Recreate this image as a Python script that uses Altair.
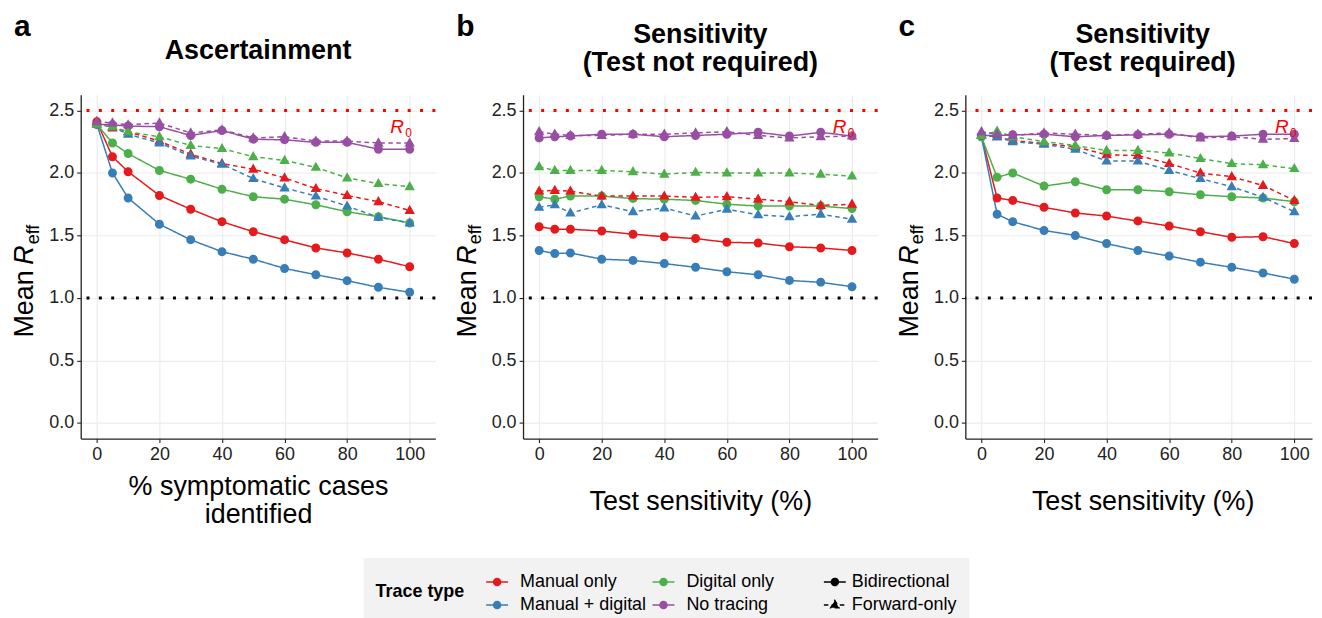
import altair as alt
import pandas as pd

FONT = "Liberation Sans"

x_values = [0, 5, 10, 20, 30, 40, 50, 60, 70, 80, 90, 100]

trace_types = ["Manual only", "Manual + digital", "Digital only", "No tracing"]
trace_colors = ["#E41A1C", "#377EB8", "#4DAF4A", "#984EA3"]
directions = ["Bidirectional", "Forward-only"]

# Panel a: Ascertainment
a_manual_bi = [2.41, 2.13, 2.01, 1.82, 1.71, 1.61, 1.53, 1.465, 1.40, 1.36, 1.31, 1.25]
a_md_bi = [2.39, 2.00, 1.80, 1.59, 1.465, 1.37, 1.31, 1.236, 1.186, 1.138, 1.085, 1.045]
a_digital_bi = [2.39, 2.24, 2.155, 2.02, 1.95, 1.87, 1.81, 1.79, 1.745, 1.69, 1.65, 1.60]
a_none_bi = [2.39, 2.385, 2.375, 2.37, 2.30, 2.34, 2.27, 2.265, 2.245, 2.245, 2.19, 2.19]
a_manual_fw = [2.41, 2.36, 2.33, 2.255, 2.15, 2.075, 2.03, 1.96, 1.875, 1.82, 1.77, 1.70]
a_md_fw = [2.39, 2.37, 2.31, 2.24, 2.135, 2.07, 1.955, 1.88, 1.815, 1.735, 1.645, 1.60]
a_digital_fw = [2.39, 2.37, 2.33, 2.29, 2.22, 2.195, 2.13, 2.10, 2.045, 1.96, 1.915, 1.89]
a_none_fw = [2.41, 2.40, 2.385, 2.40, 2.32, 2.345, 2.28, 2.29, 2.255, 2.255, 2.24, 2.24]

# Panel b: Sensitivity (test not required)
b_manual_bi = [1.57, 1.55, 1.55, 1.535, 1.51, 1.49, 1.475, 1.445, 1.44, 1.41, 1.40, 1.38]
b_md_bi = [1.38, 1.355, 1.36, 1.31, 1.30, 1.275, 1.245, 1.21, 1.185, 1.14, 1.125, 1.09]
b_digital_bi = [1.81, 1.79, 1.815, 1.815, 1.795, 1.79, 1.78, 1.75, 1.735, 1.735, 1.735, 1.715]
b_none_bi = [2.28, 2.29, 2.295, 2.31, 2.31, 2.29, 2.30, 2.31, 2.325, 2.295, 2.325, 2.295]
b_manual_fw = [1.855, 1.86, 1.855, 1.815, 1.815, 1.815, 1.805, 1.81, 1.79, 1.77, 1.74, 1.75]
b_md_fw = [1.725, 1.745, 1.68, 1.745, 1.69, 1.72, 1.655, 1.71, 1.665, 1.65, 1.67, 1.63]
b_digital_fw = [2.05, 2.02, 2.02, 2.02, 2.01, 1.99, 2.005, 2.0, 2.0, 2.0, 1.99, 1.975]
b_none_fw = [2.33, 2.31, 2.30, 2.30, 2.31, 2.31, 2.32, 2.33, 2.30, 2.28, 2.29, 2.295]

# Panel c: Sensitivity (test required)
c_manual_bi = [2.295, 1.80, 1.78, 1.725, 1.68, 1.655, 1.615, 1.575, 1.53, 1.485, 1.49, 1.435]
c_md_bi = [2.29, 1.67, 1.61, 1.54, 1.50, 1.435, 1.38, 1.335, 1.285, 1.245, 1.20, 1.15]
c_digital_bi = [2.29, 1.965, 2.0, 1.895, 1.93, 1.865, 1.865, 1.85, 1.825, 1.81, 1.80, 1.77]
c_none_bi = [2.30, 2.30, 2.305, 2.31, 2.29, 2.30, 2.305, 2.31, 2.29, 2.295, 2.31, 2.31]
c_manual_fw = [2.30, 2.29, 2.26, 2.235, 2.21, 2.145, 2.14, 2.075, 2.0, 1.97, 1.90, 1.78]
c_md_fw = [2.31, 2.29, 2.25, 2.23, 2.19, 2.095, 2.095, 2.02, 1.955, 1.89, 1.805, 1.69]
c_digital_fw = [2.30, 2.335, 2.29, 2.25, 2.22, 2.18, 2.18, 2.16, 2.115, 2.075, 2.065, 2.035]
c_none_fw = [2.33, 2.31, 2.30, 2.32, 2.31, 2.30, 2.31, 2.32, 2.28, 2.29, 2.27, 2.275]

panel_series = [
    {("Manual only", "Bidirectional"): a_manual_bi, ("Manual + digital", "Bidirectional"): a_md_bi,
     ("Digital only", "Bidirectional"): a_digital_bi, ("No tracing", "Bidirectional"): a_none_bi,
     ("Manual only", "Forward-only"): a_manual_fw, ("Manual + digital", "Forward-only"): a_md_fw,
     ("Digital only", "Forward-only"): a_digital_fw, ("No tracing", "Forward-only"): a_none_fw},
    {("Manual only", "Bidirectional"): b_manual_bi, ("Manual + digital", "Bidirectional"): b_md_bi,
     ("Digital only", "Bidirectional"): b_digital_bi, ("No tracing", "Bidirectional"): b_none_bi,
     ("Manual only", "Forward-only"): b_manual_fw, ("Manual + digital", "Forward-only"): b_md_fw,
     ("Digital only", "Forward-only"): b_digital_fw, ("No tracing", "Forward-only"): b_none_fw},
    {("Manual only", "Bidirectional"): c_manual_bi, ("Manual + digital", "Bidirectional"): c_md_bi,
     ("Digital only", "Bidirectional"): c_digital_bi, ("No tracing", "Bidirectional"): c_none_bi,
     ("Manual only", "Forward-only"): c_manual_fw, ("Manual + digital", "Forward-only"): c_md_fw,
     ("Digital only", "Forward-only"): c_digital_fw, ("No tracing", "Forward-only"): c_none_fw},
]

panel_titles = [["Ascertainment"], ["Sensitivity", "(Test not required)"], ["Sensitivity", "(Test required)"]]
x_titles = [["% symptomatic cases", "identified"], "Test sensitivity (%)", "Test sensitivity (%)"]
panel_letters = ["a", "b", "c"]
x_ticks = list(range(0, 101, 10))
y_ticks = [i * 0.25 for i in range(11)]
r0_value = 2.5
threshold_value = 1.0
r0_label_pos = (96.0, 2.37)

# symbol paths: a horizontal stroke (only visible when stroked) plus a marker
CIRCLE_LINE = "M-1,0L1,0M0.32,0A0.32,0.32,0,1,1,-0.32,0A0.32,0.32,0,1,1,0.32,0Z"
TRI_LINE = "M-1,0L1,0M0,-0.40L0.37,0.25L-0.37,0.25Z"

W, H = 356, 345
X_MIN, X_MAX = -5.15, 108.2
# the last panel is cropped at the page edge, keeping the same x scale
W_LAST = 348
X_MAX_LAST = X_MIN + (X_MAX - X_MIN) * W_LAST / W
LEG_X1, LEG_X2, LEG_Y = 284, 707, 465

color_legend = alt.Legend(
    title="Trace type", orient="none", legendX=LEG_X1, legendY=LEG_Y, columns=2,
    titleOrient="left", titleAnchor="middle", titleBaseline="middle",
    titleFont=FONT, titleFontSize=18, titleFontWeight="bold", titleColor="black", titlePadding=20,
    labelFont=FONT, labelFontSize=18, labelColor="black", labelOffset=11, labelLimit=400,
    symbolType=CIRCLE_LINE, symbolSize=484, symbolStrokeWidth=1.5, symbolOpacity=1,
    columnPadding=3, rowPadding=2, padding=12, fillColor="#F2F2F2",
)
shape_legend = alt.Legend(
    title=" ", orient="none", legendX=LEG_X2, legendY=LEG_Y, direction="vertical",
    titleOrient="left", titleFont=FONT, titleFontSize=18, titlePadding=26,
    labelFont=FONT, labelFontSize=18, labelColor="black", labelOffset=5, labelLimit=400,
    symbolSize=484, symbolStrokeWidth=1.5, symbolFillColor="black", symbolStrokeColor="black",
    symbolOpacity=1, rowPadding=2, padding=12, fillColor="#F2F2F2",
)

color_scale = alt.Scale(domain=trace_types, range=trace_colors)
shape_scale = alt.Scale(domain=directions, range=[CIRCLE_LINE, TRI_LINE])
dash_scale = alt.Scale(domain=directions, range=[[1, 0], [4.5, 3.5]])

ys = alt.Scale(domain=[-0.125, 2.625], nice=False, zero=False)

one_row = pd.DataFrame({"k": [0]})


def panel(i):
    last = i == 2
    pw = W_LAST if last else W
    xs = alt.Scale(domain=[X_MIN, X_MAX_LAST if last else X_MAX], nice=False, zero=False)

    rows = []
    for (tt, dd), vals in panel_series[i].items():
        for xv, yv in zip(x_values, vals):
            rows.append({"x": xv, "r": yv, "trace": tt, "direction": dd})
    df = pd.DataFrame(rows)

    xaxis = alt.Axis(
        values=x_ticks, title=x_titles[i],
        labelExpr="datum.value % 20 === 0 ? datum.label : ''",
        tickOpacity={"condition": {"test": "datum.value % 20 === 0", "value": 1}, "value": 0},
        gridWidth={"condition": {"test": "datum.value % 20 === 0", "value": 1.1}, "value": 0.6},
        titlePadding=10 if i == 0 else 25, titleLineHeight=28,
        titleX=W / 2,
    )
    yaxis = alt.Axis(
        values=y_ticks, title=None, format=".1f",
        labelExpr="abs(datum.value*2 - round(datum.value*2)) < 0.01 ? format(datum.value, '.1f') : ''",
        tickOpacity={"condition": {"test": "abs(datum.value*2 - round(datum.value*2)) < 0.01", "value": 1}, "value": 0},
        gridWidth={"condition": {"test": "abs(datum.value*2 - round(datum.value*2)) < 0.01", "value": 1.1}, "value": 0.6},
    )

    base = alt.Chart(df)
    lines = base.mark_line(strokeWidth=1.5).encode(
        x=alt.X("x:Q", scale=xs, axis=xaxis),
        y=alt.Y("r:Q", scale=ys, axis=yaxis),
        color=alt.Color("trace:N", scale=color_scale, legend=color_legend),
        strokeDash=alt.StrokeDash("direction:N", scale=dash_scale, legend=shape_legend),
    )
    points = base.mark_point(filled=True, size=790, opacity=1, strokeWidth=0).encode(
        x=alt.X("x:Q", scale=xs),
        y=alt.Y("r:Q", scale=ys),
        color=alt.Color("trace:N", scale=color_scale, legend=color_legend),
        shape=alt.Shape("direction:N", scale=shape_scale, legend=shape_legend),
    )

    ref = alt.Chart(pd.DataFrame({"h": [r0_value]})).mark_rule(
        color="#FF0000", strokeWidth=3, strokeDash=[3, 9.4]
    ).encode(y=alt.Y("h:Q", scale=ys))
    thr = alt.Chart(pd.DataFrame({"h": [threshold_value]})).mark_rule(
        color="black", strokeWidth=3, strokeDash=[3, 9.4]
    ).encode(y=alt.Y("h:Q", scale=ys))

    lab = pd.DataFrame({"lx": [r0_label_pos[0]], "ly": [r0_label_pos[1]]})
    r_txt = alt.Chart(lab).mark_text(
        text="R", font=FONT, fontSize=19, fontStyle="italic", color="#FF0000", baseline="middle"
    ).encode(x=alt.X("lx:Q", scale=xs), y=alt.Y("ly:Q", scale=ys))
    r_sub = alt.Chart(lab).mark_text(
        text="0", font=FONT, fontSize=12, color="#FF0000", baseline="middle", dx=11.5, dy=6.5
    ).encode(x=alt.X("lx:Q", scale=xs), y=alt.Y("ly:Q", scale=ys))

    ann = alt.Chart(one_row)
    t_mean = ann.mark_text(text="Mean", font=FONT, fontSize=27, angle=270, align="left",
                           baseline="alphabetic", color="black").encode(
        x=alt.value(-47.5), y=alt.value(243.7))
    t_r = ann.mark_text(text="R", font=FONT, fontSize=27, fontStyle="italic", angle=270, align="left",
                        baseline="alphabetic", color="black").encode(
        x=alt.value(-47.5), y=alt.value(170.5))
    t_eff = ann.mark_text(text="eff", font=FONT, fontSize=18, angle=270, align="left",
                          baseline="alphabetic", color="black").encode(
        x=alt.value(-42), y=alt.value(150))
    t_letter = ann.mark_text(text=panel_letters[i], font=FONT, fontSize=30, fontWeight="bold",
                             align="left", baseline="alphabetic", color="black").encode(
        x=alt.value(-67), y=alt.value(-59.3))
    title_layers = []
    nlines = len(panel_titles[i])
    for j, line in enumerate(panel_titles[i]):
        yb = -35.5 if nlines == 1 else (-52.3 + 28.5 * j)
        title_layers.append(
            ann.mark_text(text=line, font=FONT, fontSize=27, fontWeight="bold", align="center",
                          baseline="alphabetic", color="black").encode(
                x=alt.value(W / 2), y=alt.value(yb))
        )

    return alt.layer(ref, thr, lines, points, r_txt, r_sub, t_mean, t_r, t_eff, t_letter,
                     *title_layers).properties(width=pw, height=H)


chart = alt.hconcat(panel(0), panel(1), panel(2), spacing=16).resolve_scale(
    color="shared", shape="shared", strokeDash="shared"
).properties(
    padding={"left": 3, "top": 2, "right": 0, "bottom": 0},
    background="white",
).configure_view(stroke=None).configure_axis(
    labelFont=FONT, labelFontSize=18, labelColor="#222222",
    titleFont=FONT, titleFontSize=27, titleFontWeight="normal", titleColor="black",
    domainColor="#222222", domainWidth=1.3, tickColor="#222222", tickWidth=1.1, tickSize=4,
    labelPadding=3, gridColor="#EBEBEB",
)

chart.save("out.html", embed_options={"renderer": "svg", "actions": False})
